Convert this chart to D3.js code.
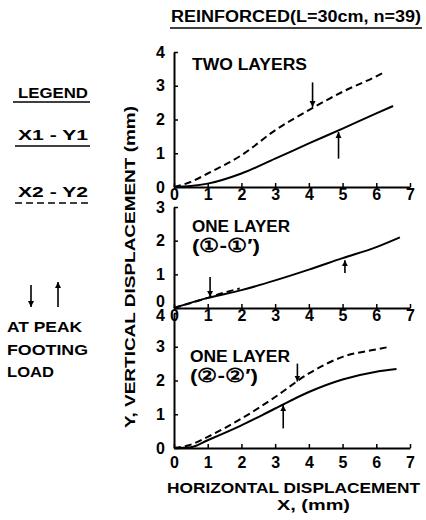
<!DOCTYPE html>
<html>
<head>
<meta charset="utf-8">
<script src="https://cdn.jsdelivr.net/npm/d3@7.9.0/dist/d3.min.js"></script>
<style>
  body { margin: 0; background: #fff; }
  svg { display: block; }
  text { font-family: "Liberation Sans", Arial, sans-serif; font-weight: bold; fill: #000; }
</style>
</head>
<body>
<svg width="426" height="520"></svg>
<script>
// panel 1: two layers
const p1SolidX = [0, 0.5, 1, 2, 3, 4, 5, 6, 6.5];
const p1SolidY = [0, 0.03, 0.1, 0.4, 0.84, 1.29, 1.73, 2.18, 2.4];
const p1DashX = [0, 0.5, 1, 2, 3, 4, 5, 6, 6.2];
const p1DashY = [0, 0.15, 0.4, 0.94, 1.68, 2.28, 2.82, 3.28, 3.38];

// panel 2: one layer (1-1')
const p2SolidX = [0, 1, 2, 3, 4, 5, 6, 6.7];
const p2SolidY = [0, 0.3, 0.53, 0.82, 1.14, 1.48, 1.81, 2.1];
const p2DashX = [0, 0.5, 1, 1.3, 1.95];
const p2DashY = [0, 0.15, 0.3, 0.4, 0.58];

// panel 3: one layer (2-2')
const p3SolidX = [0, 0.5, 1, 2, 3, 4, 5, 6, 6.6];
const p3SolidY = [0, 0.02, 0.23, 0.67, 1.17, 1.66, 2.03, 2.26, 2.34];
const p3DashX = [0, 0.5, 1, 2, 3, 4, 5, 6, 6.4];
const p3DashY = [0, 0.1, 0.33, 0.87, 1.51, 2.21, 2.7, 2.92, 3.0];

// arrows at peak footing load
const arrowPanel = [0, 0, 1, 1, 2, 2];
const arrowX    = [4.11, 4.88, 1.07, 5.07, 3.66, 3.24];
const arrowFrom = [3.1, 0.84, 0.92, 1.04, 2.5, 0.58];
const arrowTo   = [2.37, 1.63, 0.33, 1.42, 1.97, 1.27];

const xTicks = [0, 1, 2, 3, 4, 5, 6, 7];
const panelTitles = ["TWO LAYERS", "ONE LAYER", "ONE LAYER"];
const panelSubs = ["", "(\u2460-\u2460\u2032)", "(\u2461-\u2461\u2032)"];

const svg = d3.select("svg");

svg.append("defs").append("marker")
  .attr("id", "head")
  .attr("markerUnits", "userSpaceOnUse")
  .attr("viewBox", "0 0 10 10")
  .attr("refX", 10).attr("refY", 5)
  .attr("markerWidth", 6).attr("markerHeight", 8)
  .attr("orient", "auto")
  .append("path").attr("d", "M0,0L10,5L0,10z").attr("fill", "#000");

const x = d3.scaleLinear().domain([0, 7]).range([174, 410]);

const panels = [
  { yMax: 4, bottom: 187, top: 52, pad: 2, sx: p1SolidX, sy: p1SolidY, dx: p1DashX, dy: p1DashY, tx: 192, ty: 70, tw: 115 },
  { yMax: 3, bottom: 308, top: 207, pad: 2, sx: p2SolidX, sy: p2SolidY, dx: p2DashX, dy: p2DashY, tx: 192, ty: 232, tw: 98 },
  { yMax: 4, bottom: 448, top: 313, pad: 9, sx: p3SolidX, sy: p3SolidY, dx: p3DashX, dy: p3DashY, tx: 190, ty: 362, tw: 100 }
];

const line = (y) => d3.line().x(d => x(d[0])).y(d => y(d[1])).curve(d3.curveMonotoneX);

panels.forEach((p, i) => {
  const y = d3.scaleLinear().domain([0, p.yMax]).range([p.bottom, p.top]);
  const g = svg.append("g");

  const ya = g.append("g").attr("transform", `translate(${x(0)},0)`)
    .call(d3.axisLeft(y).ticks(p.yMax).tickFormat(d3.format("d"))
      .tickSizeInner(-4).tickSizeOuter(0).tickPadding(9));
  const xa = g.append("g").attr("transform", `translate(0,${p.bottom})`)
    .call(d3.axisBottom(x).tickValues(xTicks).tickFormat(d3.format("d"))
      .tickSizeInner(-4).tickSizeOuter(0).tickPadding(p.pad));
  [ya, xa].forEach(a => {
    a.select(".domain").attr("stroke", "#000").attr("stroke-width", 2);
    a.selectAll(".tick line").attr("stroke", "#000").attr("stroke-width", 1.5);
    a.selectAll(".tick text").attr("font-size", 16)
      .attr("font-family", "Liberation Sans, Arial, sans-serif").attr("font-weight", "bold");
  });
  // middle panel: zero label sits higher, bottom panel's 4 a bit lower
  if (i === 1) ya.selectAll(".tick text").filter(d => d === 0).attr("dy", "-0.1em");
  if (i === 2) ya.selectAll(".tick text").filter(d => d === 4).attr("dy", "0.45em");

  g.append("path").datum(d3.zip(p.sx, p.sy))
    .attr("d", line(y)).attr("fill", "none").attr("stroke", "#000").attr("stroke-width", 2);
  g.append("path").datum(d3.zip(p.dx, p.dy))
    .attr("d", line(y)).attr("fill", "none").attr("stroke", "#000").attr("stroke-width", 2)
    .attr("stroke-dasharray", "7,4");

  arrowX.forEach((ax, k) => {
    if (arrowPanel[k] !== i) return;
    g.append("line")
      .attr("x1", x(ax)).attr("x2", x(ax))
      .attr("y1", y(arrowFrom[k])).attr("y2", y(arrowTo[k]))
      .attr("stroke", "#000").attr("stroke-width", 1.6)
      .attr("marker-end", "url(#head)");
  });

  g.append("text").attr("x", p.tx).attr("y", p.ty).attr("font-size", 16)
    .attr("textLength", p.tw).attr("lengthAdjust", "spacingAndGlyphs").text(panelTitles[i]);
  if (panelSubs[i]) {
    g.append("text").attr("x", p.tx).attr("y", p.ty + 20).attr("font-size", 19)
      .attr("textLength", 68).attr("lengthAdjust", "spacingAndGlyphs")
      .text(panelSubs[i]);
  }
});

// title
svg.append("text").attr("x", 171).attr("y", 22).attr("font-size", 16)
  .attr("textLength", 250).attr("lengthAdjust", "spacingAndGlyphs")
  .text("REINFORCED(L=30cm, n=39)");
svg.append("line").attr("x1", 170).attr("x2", 422).attr("y1", 28).attr("y2", 28)
  .attr("stroke", "#000").attr("stroke-width", 1.5);

// axis titles
svg.append("text").attr("x", 167).attr("y", 493).attr("font-size", 15)
  .attr("textLength", 253).attr("lengthAdjust", "spacingAndGlyphs")
  .text("HORIZONTAL DISPLACEMENT");
svg.append("text").attr("x", 277).attr("y", 510).attr("font-size", 15)
  .attr("textLength", 73).attr("lengthAdjust", "spacingAndGlyphs")
  .text("X, (mm)");
svg.append("text").attr("transform", "translate(135,428) rotate(-90)").attr("font-size", 15)
  .attr("textLength", 322).attr("lengthAdjust", "spacingAndGlyphs")
  .text("Y, VERTICAL DISPLACEMENT (mm)");

// legend
const legend = svg.append("g");
legend.append("text").attr("x", 18).attr("y", 98).attr("font-size", 15)
  .attr("textLength", 70).attr("lengthAdjust", "spacingAndGlyphs").text("LEGEND");
legend.append("line").attr("x1", 13).attr("x2", 90).attr("y1", 102).attr("y2", 102)
  .attr("stroke", "#000").attr("stroke-width", 1.5);
legend.append("text").attr("x", 18).attr("y", 140).attr("font-size", 15)
  .attr("textLength", 70).attr("lengthAdjust", "spacingAndGlyphs").text("X1 - Y1");
legend.append("line").attr("x1", 15).attr("x2", 90).attr("y1", 146).attr("y2", 146)
  .attr("stroke", "#000").attr("stroke-width", 1.5);
legend.append("text").attr("x", 18).attr("y", 197).attr("font-size", 15)
  .attr("textLength", 70).attr("lengthAdjust", "spacingAndGlyphs").text("X2 - Y2");
legend.append("line").attr("x1", 15).attr("x2", 90).attr("y1", 203).attr("y2", 203)
  .attr("stroke", "#000").attr("stroke-width", 1.5).attr("stroke-dasharray", "7,4");

legend.append("line").attr("x1", 31).attr("x2", 31).attr("y1", 285).attr("y2", 307)
  .attr("stroke", "#000").attr("stroke-width", 1.6).attr("marker-end", "url(#head)");
legend.append("line").attr("x1", 58).attr("x2", 58).attr("y1", 307).attr("y2", 282)
  .attr("stroke", "#000").attr("stroke-width", 1.6).attr("marker-end", "url(#head)");

[["AT PEAK", 332, 75], ["FOOTING", 355, 81], ["LOAD", 377, 47]].forEach(([t, yy, w]) => {
  legend.append("text").attr("x", 7).attr("y", yy).attr("font-size", 15)
    .attr("textLength", w).attr("lengthAdjust", "spacingAndGlyphs").text(t);
});
</script>
</body>
</html>
